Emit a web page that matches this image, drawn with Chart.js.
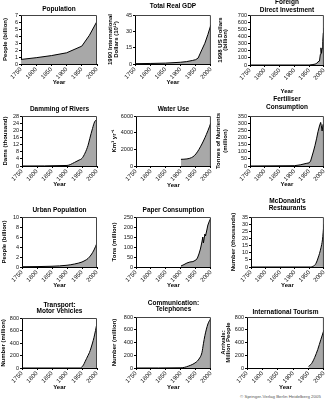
<!DOCTYPE html>
<html>
<head>
<meta charset="utf-8">
<script src="https://cdn.jsdelivr.net/npm/chart.js@4.4.1/dist/chart.umd.min.js"></script>
<style>
  html, body { margin: 0; padding: 0; background: #fff; }
  body { width: 329px; height: 400px; position: relative; overflow: hidden; }
  canvas { position: absolute; }
  #credit { position: absolute; left: 240px; top: 394px; font: 4.4px "Liberation Sans", Arial, sans-serif; color: #555; white-space: nowrap; }
</style>
</head>
<body>
<div id="credit">© Springer-Verlag Berlin Heidelberg 2005</div>
<script>
// shared x ticks
var xTicks = [1750, 1800, 1850, 1900, 1950, 2000];

// data
var popYears = [1750, 1800, 1850, 1900, 1950, 1975, 2000];
var popValues = [0.65, 0.9, 1.2, 1.6, 2.55, 4.1, 6.1];
var popTicks = [0, 1, 2, 3, 4, 5, 6, 7];

var gdpYears = [1750, 1800, 1850, 1900, 1920, 1940, 1950, 1958, 1970, 1980, 1990, 2000];
var gdpValues = [0.3, 0.5, 0.8, 1.6, 2.2, 3.3, 4, 5.5, 13, 19, 27, 36];
var gdpTicks = [0, 15, 30, 45];

var fdiYears = [1750, 1950, 1960, 1970, 1975, 1980, 1985, 1988, 1990, 1992, 1994, 1996, 1998, 2000];
var fdiValues = [0, 0, 5, 12, 20, 45, 55, 150, 240, 165, 230, 330, 450, 520];
var fdiTicks = [0, 100, 200, 300, 400, 500, 600, 700];

var damYears = [1750, 1900, 1925, 1940, 1950, 1960, 1970, 1976, 1985, 1992, 2000];
var damValues = [0, 0.3, 2, 3.3, 4.3, 7.2, 11.5, 15.4, 21, 24.7, 26.2];
var damTicks = [0, 4, 8, 12, 16, 20, 24, 28];

var waterYears = [1900, 1920, 1935, 1945, 1955, 1965, 1975, 1985, 1995, 2000];
var waterValues = [800, 850, 1000, 1250, 1700, 2300, 3000, 3800, 4700, 5200];
var waterTicks = [0, 2000, 4000, 6000];

var fertYears = [1750, 1900, 1920, 1940, 1950, 1955, 1960, 1965, 1970, 1975, 1980, 1985, 1989, 1991, 1994, 1997, 2000];
var fertValues = [0, 2, 8, 18, 22, 35, 70, 105, 145, 190, 240, 280, 305, 285, 245, 290, 275];
var fertTicks = [0, 50, 100, 150, 200, 250, 300, 350];

var urbanYears = [1750, 1800, 1850, 1900, 1925, 1950, 1960, 1970, 1980, 1990, 2000];
var urbanValues = [0.05, 0.08, 0.15, 0.35, 0.6, 1.0, 1.3, 1.7, 2.4, 3.4, 4.8];
var urbanTicks = [0, 2, 4, 6, 8, 10];

var paperYears = [1900, 1910, 1920, 1930, 1940, 1950, 1955, 1960, 1965, 1970, 1973, 1975, 1980, 1982, 1985, 1990, 1995, 2000];
var paperValues = [5, 12, 20, 25, 27, 35, 45, 65, 90, 125, 150, 120, 165, 155, 175, 210, 230, 245];
var paperTicks = [0, 50, 100, 150, 200, 250];

var mcdYears = [1750, 1955, 1960, 1965, 1970, 1975, 1980, 1985, 1990, 1995, 2000];
var mcdValues = [0, 0, 0.3, 0.7, 1.6, 3.5, 6.3, 9.5, 13.5, 19, 30];
var mcdTicks = [0, 5, 10, 15, 20, 25, 30, 35];

var carYears = [1750, 1900, 1945, 1950, 1955, 1960, 1965, 1970, 1975, 1980, 1985, 1990, 1995, 2000];
var carValues = [0, 0, 0, 20, 50, 100, 150, 200, 250, 320, 400, 490, 600, 720];
var carTicks = [0, 200, 400, 600, 800];

var phoneYears = [1750, 1900, 1925, 1950, 1960, 1970, 1975, 1980, 1990, 2000];
var phoneValues = [0, 3, 30, 90, 140, 240, 380, 510, 690, 780];
var phoneTicks = [0, 200, 400, 600, 800];

var tourYears = [1950, 1960, 1970, 1980, 1990, 2000];
var tourValues = [25, 70, 165, 290, 445, 595];
var tourTicks = [0, 200, 400, 600, 800];

var FONT = '"Liberation Sans", Arial, Helvetica, sans-serif';
Chart.defaults.font.family = FONT;
Chart.defaults.color = '#000';

// l,t,r,b = plot box on the page; titleY / yTitleX / yearY = text centres
var panels = [
  { title: ['Population'], yTitle: ['People (billion)'], years: popYears, values: popValues, ticks: popTicks,
    box: { x: -2, w: 112, l: 21, t: 15, r: 97, b: 64, titleY: [9], yTitleX: [5], yearY: 82.5 } },
  { title: ['Total Real GDP'], yTitle: ['1990 International', 'Dollars (10¹²)'], years: gdpYears, values: gdpValues, ticks: gdpTicks,
    box: { x: 106, w: 110, l: 135, t: 15, r: 211, b: 64, titleY: [6.5], yTitleX: [110.5, 116.5], yearY: 82.7 } },
  { title: ['Foreign', 'Direct Investment'], yTitle: ['1998 US Dollars', '(billion)'], years: fdiYears, values: fdiValues, ticks: fdiTicks,
    box: { x: 213, w: 116, l: 250, t: 15, r: 324, b: 65, titleY: [2.3, 10], tlh: 7.7, yTitleX: [220, 225.5], yearY: 91.5 } },
  { title: ['Damming of Rivers'], yTitle: ['Dams (thousand)'], years: damYears, values: damValues, ticks: damTicks, smooth: true,
    box: { x: -2, w: 112, l: 22, t: 116, r: 97, b: 166, titleY: [109], yTitleX: [5], yearY: 184 } },
  { title: ['Water Use'], yTitle: ['Km³ yr⁻¹'], years: waterYears, values: waterValues, ticks: waterTicks, smooth: true,
    box: { x: 106, w: 110, l: 136, t: 116, r: 211, b: 166, titleY: [109], yTitleX: [114], yearY: 185 } },
  { title: ['Fertiliser', 'Consumption'], yTitle: ['Tonnes of Nutrients', '(million)'], years: fertYears, values: fertValues, ticks: fertTicks,
    box: { x: 213, w: 116, l: 250, t: 116, r: 324, b: 166, titleY: [99, 107.4], tlh: 8.4, yTitleX: [218.5, 225], yearY: 184 } },
  { title: ['Urban Population'], yTitle: ['People (billion)'], years: urbanYears, values: urbanValues, ticks: urbanTicks, smooth: true,
    box: { x: -2, w: 112, l: 22, t: 217, r: 97, b: 267, titleY: [210.7], yTitleX: [4.5], yearY: 285 } },
  { title: ['Paper Consumption'], yTitle: ['Tons (million)'], years: paperYears, values: paperValues, ticks: paperTicks,
    box: { x: 106, w: 110, l: 136, t: 217, r: 211, b: 267, titleY: [210.7], yTitleX: [114], yearY: 285 } },
  { title: ["McDonald's", 'Restaurants'], yTitle: ['Number (thousands)'], years: mcdYears, values: mcdValues, ticks: mcdTicks, smooth: true,
    box: { x: 213, w: 116, l: 251, t: 217, r: 325, b: 267, titleY: [201, 208.3], tlh: 7.3, yTitleX: [233.5], yearY: 285 } },
  { title: ['Transport:', 'Motor Vehicles'], yTitle: ['Number (million)'], years: carYears, values: carValues, ticks: carTicks, smooth: true,
    box: { x: -2, w: 112, l: 22, t: 318, r: 97, b: 368, titleY: [305, 311.5], tlh: 6.5, yTitleX: [3], yearY: 387 } },
  { title: ['Communication:', 'Telephones'], yTitle: ['Number (million)'], years: phoneYears, values: phoneValues, ticks: phoneTicks, smooth: true,
    box: { x: 106, w: 110, l: 136, t: 317, r: 211, b: 368, titleY: [303.3, 309.5], tlh: 6.2, yTitleX: [114.5], yearY: 387 } },
  { title: ['International Tourism'], yTitle: ['Arrivals:', 'Million People'], years: tourYears, values: tourValues, ticks: tourTicks, smooth: true,
    box: { x: 213, w: 116, l: 247, t: 317, r: 325, b: 368, titleY: [312.3], yTitleX: [223, 228.5], yearY: 387 } }
];

// grey frame on top/right of each plot
var frame = {
  id: 'frame',
  afterDatasetsDraw: function(chart) {
    var a = chart.chartArea, ctx = chart.ctx;
    ctx.save();
    ctx.strokeStyle = '#444';
    ctx.lineWidth = 1;
    ctx.beginPath();
    ctx.moveTo(a.left, a.top + 0.5);
    ctx.lineTo(a.right - 0.5, a.top + 0.5);
    ctx.lineTo(a.right - 0.5, a.bottom);
    ctx.stroke();
    ctx.restore();
  }
};

panels.forEach(function(p) {
  var bx = p.box;
  var tlh = bx.tlh || 7;
  var cy = Math.floor(bx.titleY[0] - tlh / 2 - 1);
  var ch = Math.ceil(bx.yearY + 5) - cy;

  var canvas = document.createElement('canvas');
  canvas.width = bx.w;
  canvas.height = ch;
  canvas.style.left = bx.x + 'px';
  canvas.style.top = cy + 'px';
  document.body.appendChild(canvas);

  var yAxisW = bx.l - bx.x;
  var xAxisH = cy + ch - bx.b;
  var titlePadTop = bx.titleY[0] - cy - tlh / 2;
  var titlePadBottom = bx.t - cy - titlePadTop - tlh * p.title.length;
  var ylh = bx.yTitleX.length > 1 ? bx.yTitleX[1] - bx.yTitleX[0] : 7;
  var yTitlePad = Math.max(0, bx.yTitleX[0] - bx.x - ylh / 2);
  var yearPad = Math.max(0, cy + ch - bx.yearY - 3.5);

  var pts = p.years.map(function(y, i) { return { x: y, y: p.values[i] }; });

  new Chart(canvas, {
    type: 'line',
    data: {
      datasets: [{
        data: pts,
        fill: 'origin',
        backgroundColor: '#a8a8a8',
        borderColor: '#000',
        borderWidth: 1,
        pointRadius: 0,
        cubicInterpolationMode: p.smooth ? 'monotone' : 'default',
        tension: 0
      }]
    },
    options: {
      responsive: false,
      animation: false,
      events: [],
      layout: { padding: { left: 0, top: 0, bottom: 0, right: bx.x + bx.w - bx.r } },
      plugins: {
        legend: { display: false },
        tooltip: { enabled: false },
        title: {
          display: true,
          text: p.title,
          fullSize: false,
          color: '#000',
          font: { size: 6.5, weight: 'bold', lineHeight: tlh + 'px' },
          padding: { top: titlePadTop, bottom: titlePadBottom }
        }
      },
      scales: {
        x: {
          type: 'linear',
          min: 1750,
          max: 2000,
          afterBuildTicks: function(s) { s.ticks = xTicks.map(function(v) { return { value: v }; }); },
          afterFit: function(s) { s.height = xAxisH; },
          ticks: {
            autoSkip: false, minRotation: 45, maxRotation: 45, padding: 0,
            font: { size: 6 }, color: '#111',
            callback: function(v) { return String(v); }
          },
          grid: { drawOnChartArea: false, tickLength: 2, color: '#000' },
          border: { color: '#000', width: 1 },
          title: { display: true, text: 'Year', color: '#000', font: { size: 6, weight: 'bold', lineHeight: '7px' }, padding: { top: 0, bottom: yearPad } }
        },
        y: {
          min: 0,
          max: p.ticks[p.ticks.length - 1],
          afterBuildTicks: function(s) { s.ticks = p.ticks.map(function(v) { return { value: v }; }); },
          afterFit: function(s) { s.width = yAxisW; },
          ticks: { autoSkip: false, padding: 1, font: { size: 5.5 }, color: '#111', callback: function(v) { return String(v); } },
          grid: { drawOnChartArea: false, tickLength: 2, color: '#000' },
          border: { color: '#000', width: 1 },
          title: { display: true, text: p.yTitle, color: '#000', font: { size: 6, weight: 'bold', lineHeight: ylh + 'px' }, padding: { top: yTitlePad, bottom: 0 } }
        }
      }
    },
    plugins: [frame]
  });
});
</script>
</body>
</html>
